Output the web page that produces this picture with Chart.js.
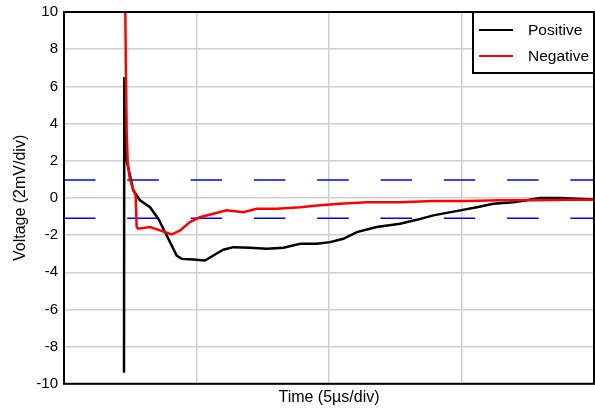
<!DOCTYPE html>
<html>
<head>
<meta charset="utf-8">
<script src="https://cdn.jsdelivr.net/npm/chart.js@4/dist/chart.umd.min.js"></script>
<style>
  html, body { margin: 0; padding: 0; background: #fff; }
  #wrap { width: 595px; height: 411px; }
</style>
</head>
<body>
<div id="wrap"><canvas id="chart" width="595" height="411"></canvas></div>
<script>
// ---------- data (time in µs, voltage in div) ----------
const posTime = [2.264, 2.275, 2.30, 2.365, 2.49, 2.615, 2.868, 3.245, 3.558, 3.876,
  4.253, 4.442, 4.88, 5.32, 5.634, 6.012, 6.389, 7.019, 7.65, 8.28, 8.91, 9.54,
  10.04, 10.54, 11.05, 11.80, 12.68, 13.31, 13.94, 14.95, 15.58, 16.20,
  16.96, 17.46, 17.96, 18.72, 19.96];
const posVolt = [-9.4, 6.5, 3.3, 2.0, 1.2, 0.4, -0.13, -0.5, -1.12, -2.02,
  -3.1, -3.28, -3.32, -3.37, -3.1, -2.79, -2.65, -2.68, -2.74, -2.68, -2.47, -2.47,
  -2.38, -2.2, -1.84, -1.57, -1.39, -1.18, -0.94, -0.67, -0.5, -0.31,
  -0.23, -0.13, -0.01, -0.01, -0.08];

const negTime = [2.30, 2.335, 2.365, 2.405, 2.485, 2.615, 2.705, 2.742, 2.80, 3.245, 3.622,
  4.064, 4.38, 4.755, 5.13, 5.634, 6.14, 6.77, 7.27, 8.03, 8.91, 9.66,
  10.42, 11.43, 12.68, 13.94, 15.20, 16.46, 17.70, 18.97, 19.96];
const negVolt = [12, 7, 3.5, 1.9, 1.0, 0.45, 0.1, -1.57, -1.66, -1.57, -1.75,
  -1.97, -1.75, -1.3, -1.04, -0.85, -0.67, -0.77, -0.58, -0.58, -0.5, -0.4,
  -0.31, -0.23, -0.23, -0.17, -0.17, -0.13, -0.13, -0.1, -0.1];

const limitHigh = 0.96;
const limitLow = -1.1;
const timeRange = [0, 20];
const voltRange = [-10, 10];
const legendLabels = ["Positive", "Negative"];

const toPoints = (xs, ys) => xs.map((x, i) => ({ x, y: ys[i] }));
const flat = (v) => timeRange.map((x) => ({ x, y: v }));

// ---------- frame + boxed legend ----------
const frameLegend = {
  id: "frameLegend",
  afterDatasetsDraw(chart) {
    const { ctx, chartArea: a } = chart;
    ctx.save();
    ctx.strokeStyle = "#000";
    ctx.lineWidth = 2;
    ctx.strokeRect(a.left, a.top, a.right - a.left, a.bottom - a.top);

    const w = 121, h = 61;
    const x0 = a.right - w, y0 = a.top;
    ctx.fillStyle = "#fff";
    ctx.fillRect(x0, y0, w, h);
    ctx.strokeRect(x0, y0, w, h);

    ctx.font = "15.5px 'Liberation Sans', Arial, sans-serif";
    ctx.textBaseline = "middle";
    const items = chart.data.datasets.filter((d) => legendLabels.includes(d.label));
    items.sort((p, q) => legendLabels.indexOf(p.label) - legendLabels.indexOf(q.label));
    items.forEach((d, i) => {
      const y = y0 + 18 + i * 26;
      ctx.strokeStyle = d.borderColor;
      ctx.lineWidth = 2;
      ctx.beginPath();
      ctx.moveTo(x0 + 6, y);
      ctx.lineTo(x0 + 40, y);
      ctx.stroke();
      ctx.fillStyle = "#000";
      ctx.fillText(d.label, x0 + 55, y + 1);
    });
    ctx.restore();
  },
};

const fam = "'Liberation Sans', Arial, sans-serif";
const tickFont = { family: fam, size: 15 };
const titleFont = { family: fam, size: 16 };

new Chart(document.getElementById("chart"), {
  type: "line",
  data: {
    datasets: [
      {
        label: "Positive",
        data: toPoints(posTime, posVolt),
        borderColor: "#000000",
        borderWidth: 2.5,
        order: 2,
      },
      {
        label: "Negative",
        data: toPoints(negTime, negVolt),
        borderColor: "#ff0000",
        borderWidth: 2.5,
        order: 1,
      },
      {
        label: "upper",
        data: flat(limitHigh),
        borderColor: "#0000ff",
        borderWidth: 1.5,
        borderDash: [31.5, 31.8],
        order: 3,
      },
      {
        label: "lower",
        data: flat(limitLow),
        borderColor: "#0000ff",
        borderWidth: 1.5,
        borderDash: [31.5, 31.8],
        order: 3,
      },
    ],
  },
  options: {
    responsive: false,
    animation: false,
    devicePixelRatio: 1,
    layout: { padding: { top: 12, right: 1, left: 0, bottom: 0 } },
    elements: { point: { radius: 0 }, line: { tension: 0 } },
    plugins: { legend: { display: false }, tooltip: { enabled: false } },
    scales: {
      x: {
        type: "linear",
        min: timeRange[0],
        max: timeRange[1],
        ticks: { stepSize: 5, display: false },
        grid: { color: "#d0d0d0", lineWidth: 1.5, drawTicks: false },
        border: { display: false },
        title: {
          display: true,
          text: "Time (5µs/div)",
          color: "#000",
          font: titleFont,
          padding: { top: 0, bottom: 4 },
        },
        afterFit: (s) => {
          s.height = 27.2;
          s.paddingLeft = 0;
          s.paddingRight = 0;
        },
      },
      y: {
        min: voltRange[0],
        max: voltRange[1],
        ticks: { stepSize: 2, color: "#000", font: tickFont, padding: 6 },
        grid: { color: "#d0d0d0", lineWidth: 1.5, drawTicks: false },
        border: { display: false },
        title: {
          display: true,
          text: "Voltage (2mV/div)",
          color: "#000",
          font: titleFont,
          padding: { top: 10.5, bottom: 0 },
        },
        afterFit: (s) => {
          s.width = 64;
          s.paddingTop = 0;
          s.paddingBottom = 0;
        },
      },
    },
  },
  plugins: [frameLegend],
});
</script>
</body>
</html>
